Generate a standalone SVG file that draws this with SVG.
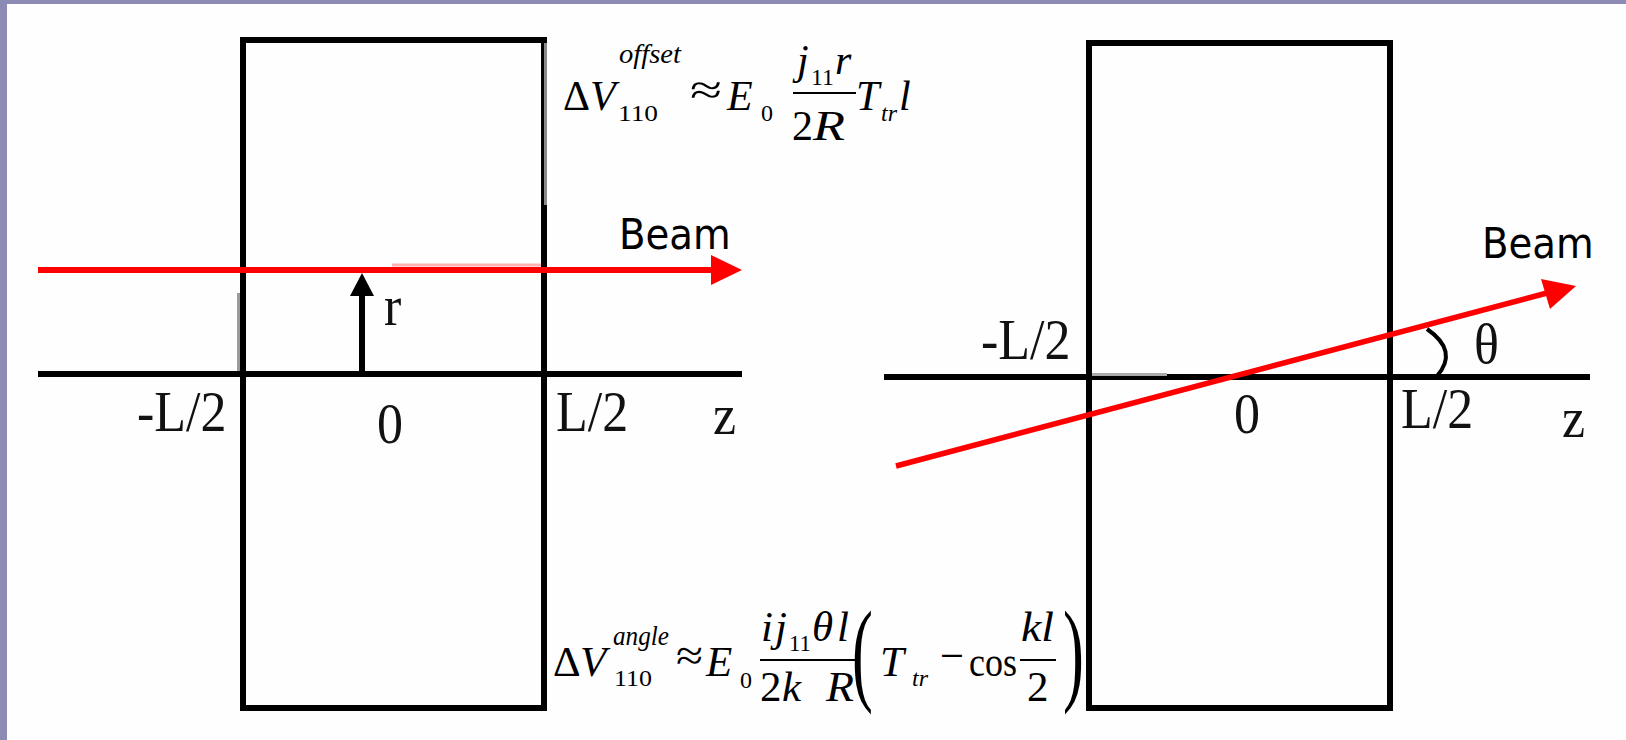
<svg xmlns="http://www.w3.org/2000/svg" width="1626" height="740" viewBox="0 0 1626 740">
<style>
.box{fill:none;stroke:#000;stroke-width:6}
.ax{stroke:#000;stroke-width:6;fill:none}
.beam{stroke:#ff0000;stroke-width:6;fill:none}
.lbl{font-family:"Liberation Serif","Times New Roman",serif;font-size:52px;fill:#111}
.bm{font-family:"DejaVu Sans Condensed","DejaVu Sans",sans-serif;font-stretch:condensed;font-size:43px;fill:#000}
.m{font-family:"Liberation Serif","Times New Roman",serif;font-size:42px;fill:#000}
.m2{font-family:"Liberation Serif","Times New Roman",serif;font-size:43px;fill:#000}
.s{font-family:"Liberation Serif","Times New Roman",serif;font-size:24px;fill:#000}
.sup{font-family:"Liberation Serif","Times New Roman",serif;font-size:27px;font-style:italic;fill:#000}
.i{font-style:italic}
.bar{stroke:#000;stroke-width:2}
</style>
<rect x="0" y="0" width="1626" height="740" fill="#fefefe"/>
<rect x="0" y="0" width="1626" height="4" fill="#8b8bb5"/>
<rect x="0" y="0" width="7" height="740" fill="#8b8bb5"/>

<g id="cavity-left">
<rect class="box" x="243" y="40" width="301" height="668"/>
<line x1="545.5" y1="43" x2="545.5" y2="205" stroke="#8a8a8a" stroke-width="3"/>
<line x1="238.5" y1="293" x2="238.5" y2="372" stroke="#9a9a9a" stroke-width="3"/>
</g>
<g id="cavity-right">
<rect class="box" x="1089" y="43" width="301" height="665"/>
</g>

<g id="connectors">
<line class="ax" x1="38" y1="374" x2="742" y2="374"/>
<line class="ax" x1="884" y1="377" x2="1590" y2="377"/>
<line x1="1092" y1="374.5" x2="1167" y2="374.5" stroke="#aaaaaa" stroke-width="3"/>
<line x1="392" y1="265" x2="541" y2="265" stroke="#ffb0b0" stroke-width="3"/>
<line class="beam" x1="38" y1="270" x2="712" y2="270"/>
<polygon points="711,255 742,270 711,285" fill="#ff0000"/>
<line x1="362" y1="374" x2="362" y2="292" stroke="#000" stroke-width="6"/>
<polygon points="350,296 362,273 374,296" fill="#000"/>
<line x1="896" y1="466" x2="1547" y2="293" stroke="#ff0000" stroke-width="5.5"/>
<polygon points="1541,279 1576,286 1550,309" fill="#ff0000"/>
<path d="M1427,329 Q1459,351 1437,376" fill="none" stroke="#000" stroke-width="4"/>
</g>

<g id="labels-left">
<text class="bm" x="619" y="249">Beam</text>
<text class="lbl" transform="translate(384,325) scale(1,1.1)">r</text>
<text class="lbl" transform="translate(137,431) scale(1,1.1)">-L/2</text>
<text class="lbl" transform="translate(377,443) scale(1,1.1)">0</text>
<text class="lbl" transform="translate(556,431) scale(1,1.1)">L/2</text>
<text class="lbl" transform="translate(713,434) scale(1,1.1)">z</text>
</g>
<g id="labels-right">
<text class="bm" x="1482" y="258">Beam</text>
<text class="lbl" transform="translate(981,359) scale(1,1.1)">-L/2</text>
<text class="lbl" transform="translate(1234,433) scale(1,1.1)">0</text>
<text class="lbl" transform="translate(1401,428) scale(1,1.1)">L/2</text>
<text class="lbl" transform="translate(1562,437) scale(1,1.1)">z</text>
<text class="lbl" transform="translate(1474,363) scale(1,1.1)">θ</text>
</g>

<g id="formula-offset">
<text class="m" x="563" y="110">Δ</text>
<text class="m i" x="590" y="110">V</text>
<text class="sup" x="619" y="63" textLength="62" lengthAdjust="spacingAndGlyphs">offset</text>
<text class="s" x="618" y="121" textLength="40" lengthAdjust="spacingAndGlyphs">110</text>
<text class="m" x="690" y="104" textLength="32" lengthAdjust="spacingAndGlyphs">≈</text>
<text class="m i" x="727" y="110">E</text>
<text class="s" x="761" y="121">0</text>
<text class="m i" x="797" y="74">j</text>
<text class="s" x="811" y="85" textLength="23" lengthAdjust="spacingAndGlyphs">11</text>
<text class="m i" x="835" y="74">r</text>
<line class="bar" x1="793" y1="93" x2="856" y2="93"/>
<text class="m" x="792" y="140">2</text>
<text class="m i" x="813" y="140" textLength="32" lengthAdjust="spacingAndGlyphs">R</text>
<text class="m i" x="856" y="110">T</text>
<text class="s i" x="881" y="121">tr</text>
<text class="m i" x="899" y="110">l</text>
</g>

<g id="formula-angle">
<text class="m2" x="553" y="676">Δ</text>
<text class="m2 i" x="580" y="676">V</text>
<text class="sup" x="613" y="645" textLength="56" lengthAdjust="spacingAndGlyphs">angle</text>
<text class="s" x="614" y="686" textLength="38" lengthAdjust="spacingAndGlyphs">110</text>
<text class="m2" x="676" y="670" textLength="27" lengthAdjust="spacingAndGlyphs">≈</text>
<text class="m2 i" x="706" y="676">E</text>
<text class="s" x="740" y="688">0</text>
<text class="m2 i" x="761" y="641">i</text>
<text class="m2 i" x="775" y="641">j</text>
<text class="s" x="789" y="651" textLength="22" lengthAdjust="spacingAndGlyphs">11</text>
<text class="m2 i" x="812" y="641">θ</text>
<text class="m2 i" x="837" y="641">l</text>
<line class="bar" x1="760" y1="660" x2="858" y2="660"/>
<text class="m2" x="760" y="701">2</text>
<text class="m2 i" x="782" y="701">k</text>
<text class="m2 i" x="826" y="701" textLength="28" lengthAdjust="spacingAndGlyphs">R</text>
<text class="m2" transform="translate(852,690) scale(0.55,1)" style="font-size:114px">(</text>
<text class="m2 i" x="880" y="676">T</text>
<text class="s i" x="912" y="686">tr</text>
<text class="m2" x="940" y="670" textLength="24" lengthAdjust="spacingAndGlyphs">−</text>
<text class="m2" x="969" y="676" textLength="48" lengthAdjust="spacingAndGlyphs">cos</text>
<text class="m2 i" x="1021" y="641" textLength="33" lengthAdjust="spacingAndGlyphs">kl</text>
<line class="bar" x1="1020" y1="660" x2="1056" y2="660"/>
<text class="m2" x="1027" y="701">2</text>
<text class="m2" transform="translate(1063,690) scale(0.55,1)" style="font-size:114px">)</text>
</g>
</svg>
